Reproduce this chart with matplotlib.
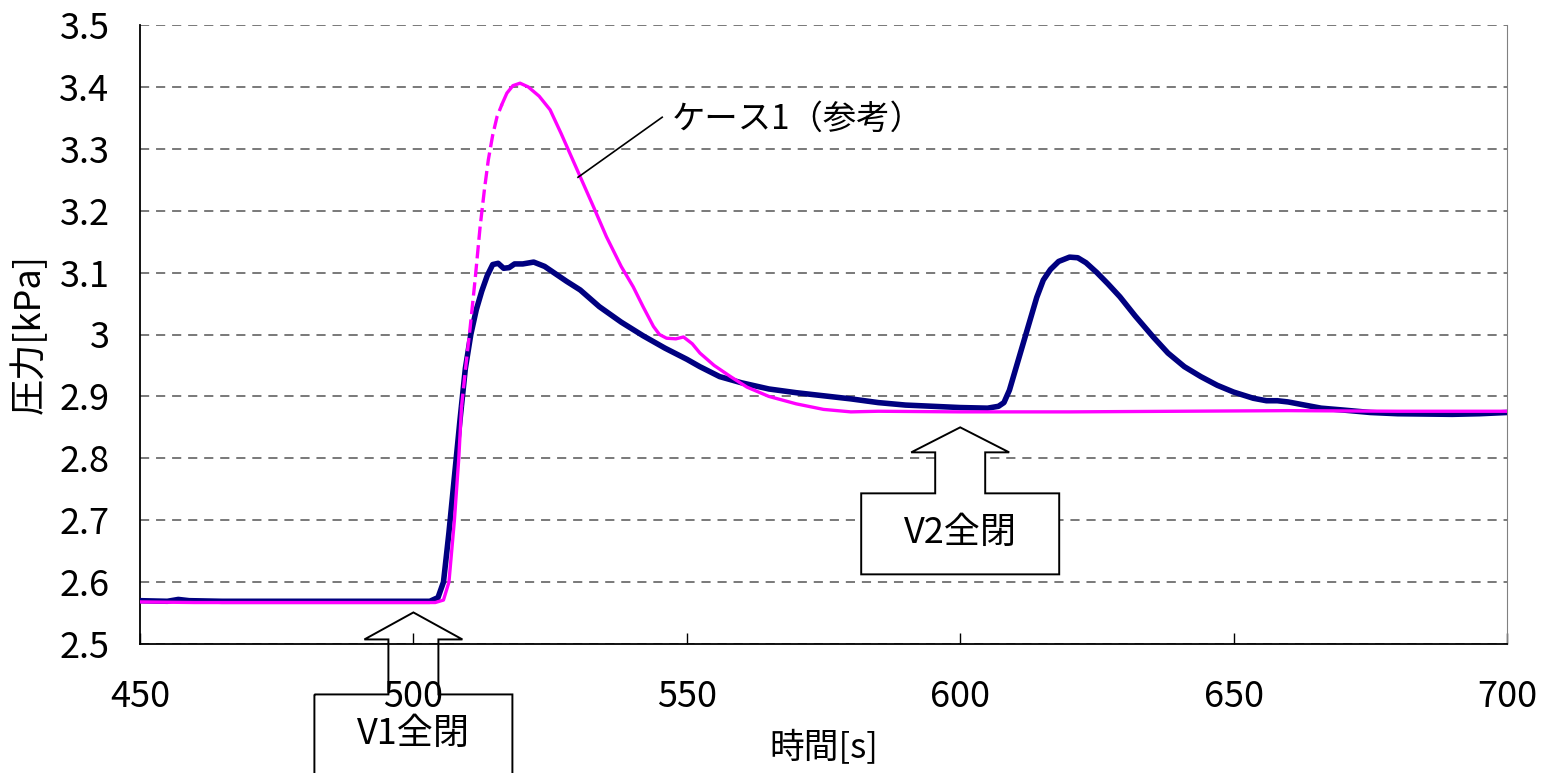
import numpy as np
import matplotlib
matplotlib.use("Agg")
import matplotlib.pyplot as plt
from matplotlib.patches import Polygon
from matplotlib.transforms import IdentityTransform

plt.rcParams['font.family'] = ['Noto Sans CJK JP', 'DejaVu Sans']

# ---------------------------------------------------------
# data
# ---------------------------------------------------------
time_main = [450, 455, 457, 459, 465, 480, 500, 503, 504.5, 505.5, 506.5, 507.5,
             508.5, 509.5, 510.5, 511.5, 512.5, 513.5, 514.5, 515.5, 516.5, 517.5,
             518.5, 520, 522, 524, 526, 528, 530.5, 534, 538, 542, 546, 550, 552.4,
             556, 560, 565, 570, 575, 580, 585, 590, 595, 600, 605, 607, 608, 609,
             610, 611, 612, 613, 614, 615.2, 616.5, 618, 620, 621.5, 623, 625, 627,
             629.2, 632, 635.3, 638, 641, 644, 647, 650, 653.6, 656, 658, 660, 663,
             666, 670, 675, 680, 690, 695, 700]
pres_main = [2.570, 2.569, 2.572, 2.570, 2.569, 2.569, 2.569, 2.569, 2.575, 2.60,
             2.68, 2.77, 2.86, 2.945, 3.00, 3.04, 3.07, 3.095, 3.113, 3.115, 3.107,
             3.108, 3.114, 3.114, 3.117, 3.110, 3.098, 3.086, 3.072, 3.045, 3.02,
             2.998, 2.978, 2.96, 2.948, 2.932, 2.922, 2.912, 2.906, 2.901, 2.896,
             2.89, 2.886, 2.884, 2.882, 2.881, 2.884, 2.89, 2.91, 2.94, 2.97, 3.00,
             3.03, 3.06, 3.088, 3.105, 3.118, 3.125, 3.124, 3.116, 3.10, 3.082,
             3.061, 3.03, 2.996, 2.97, 2.948, 2.932, 2.918, 2.907, 2.897, 2.893,
             2.893, 2.891, 2.886, 2.881, 2.878, 2.874, 2.872, 2.871, 2.872, 2.874]

time_ref = [450, 460, 480, 500, 504, 505.5, 506.5, 507.5, 508.3, 508.8, 509.6,
            510.4, 511.3, 512.2, 513, 513.7, 514.5, 515.3, 516.2, 517.1, 518.2,
            519.5, 521, 523, 525, 527, 528.5, 530.5, 533, 535.3, 538, 540.2, 542,
            543.9, 545, 546.3, 548, 549.4, 551, 552.4, 555, 558, 561, 565, 570,
            575, 580, 585, 600, 620, 640, 660, 680, 700]
pres_ref = [2.568, 2.567, 2.567, 2.567, 2.567, 2.571, 2.60, 2.70, 2.80, 2.883,
            2.95, 3.013, 3.09, 3.174, 3.235, 3.282, 3.322, 3.352, 3.372, 3.39,
            3.402, 3.406, 3.40, 3.385, 3.363, 3.325, 3.295, 3.255, 3.205, 3.158,
            3.11, 3.077, 3.045, 3.013, 3.0, 2.994, 2.993, 2.996, 2.985, 2.970,
            2.95, 2.932, 2.915, 2.900, 2.888, 2.879, 2.875, 2.876, 2.875, 2.875,
            2.876, 2.877, 2.876, 2.876]
# part of the reference curve drawn dashed
ref_dash_from, ref_dash_to = 508.8, 516.2

y_ticks = [2.5, 2.6, 2.7, 2.8, 2.9, 3.0, 3.1, 3.2, 3.3, 3.4, 3.5]
y_tick_labels = ["2.5", "2.6", "2.7", "2.8", "2.9", "3", "3.1", "3.2", "3.3", "3.4", "3.5"]
x_ticks = [450, 500, 550, 600, 650, 700]

ref_label = "ケース1（参考）"
callouts = [("V1全閉", 500, 2.551), ("V2全閉", 600, 2.850)]

# ---------------------------------------------------------
# figure
# ---------------------------------------------------------
fig = plt.figure(figsize=(15.45, 7.73), dpi=100)
ax = fig.add_axes([140 / 1545, 1 - 644 / 773, 1367 / 1545, 619 / 773])

ax.plot(time_main, pres_main, color="#000080", lw=4.0, zorder=3,
        solid_capstyle="round", solid_joinstyle="round")

t = np.array(time_ref)
p = np.array(pres_ref)
before = t <= ref_dash_from
dash = (t >= ref_dash_from) & (t <= ref_dash_to)
after = t >= ref_dash_to
ax.plot(t[before], p[before], color="#FF00FF", lw=2.4, zorder=4)
ax.plot(t[dash], p[dash], color="#FF00FF", lw=2.4, ls=(0, (4, 1.6)), zorder=4)
ax.plot(t[after], p[after], color="#FF00FF", lw=2.4, zorder=4)

ax.set_xlim(450, 700)
ax.set_ylim(2.5, 3.5)
ax.set_xticks(x_ticks)
ax.set_yticks(y_ticks)
ax.set_yticklabels(y_tick_labels)
ax.tick_params(axis="x", direction="in", length=8, width=1, pad=25, labelsize=26)
ax.tick_params(axis="y", direction="in", length=0, pad=22, labelsize=26)

ax.grid(axis="y", color="#555555", lw=1.1, ls=(0, (6, 4.5)))
ax.spines["top"].set_visible(False)
ax.spines["right"].set_color("#808080")
ax.spines["left"].set_linewidth(1.3)
ax.spines["bottom"].set_linewidth(1.3)

ax.set_xlabel("時間[s]", fontsize=25, labelpad=12)
ax.set_ylabel("圧力[kPa]", fontsize=26, labelpad=8)

# leader line + label for the reference case
ax.plot([530.1, 545.5], [3.254, 3.351], color="black", lw=1.2, zorder=5)
ax.text(547.3, 3.347, ref_label, fontsize=24, va="center", ha="left")

# ---------------------------------------------------------
# arrow callouts (drawn in pixel space around the arrow tip)
# ---------------------------------------------------------
shapes = [dict(head=27, box_top=82, box_h=110, fill="none", text_dy=122),
          dict(head=25, box_top=66, box_h=81, fill="white", text_dy=106)]
for (label, cx, cy), s in zip(callouts, shapes):
    tx, ty = ax.transData.transform((cx, cy))
    pts = [(-99, s["box_top"]), (-25, s["box_top"]), (-25, s["head"]), (-49, s["head"]),
           (0, 0), (49, s["head"]), (25, s["head"]), (25, s["box_top"]),
           (99, s["box_top"]), (99, s["box_top"] + s["box_h"]),
           (-99, s["box_top"] + s["box_h"])]
    poly = Polygon([(tx + dx, ty - dy) for dx, dy in pts], closed=True,
                   facecolor=s["fill"], edgecolor="black", lw=1.4,
                   transform=IdentityTransform(), zorder=6)
    fig.add_artist(poly)
    fig.text(tx / 1545, (ty - s["text_dy"]) / 773, label, fontsize=26,
             ha="center", va="center", zorder=7)

fig.savefig("out.png", dpi=100)
